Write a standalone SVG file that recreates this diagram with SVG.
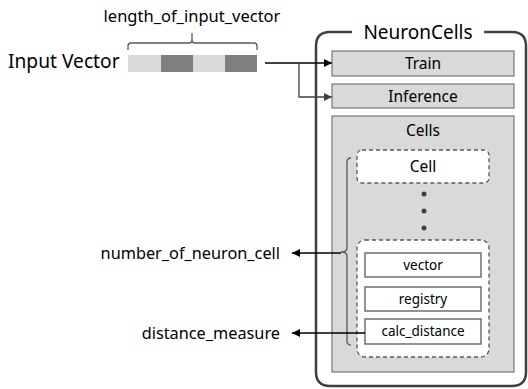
<svg xmlns="http://www.w3.org/2000/svg" width="528" height="389" viewBox="0 0 528 389">
<defs>
<style>
text{font-family:"Noto Sans","Open Sans",sans-serif;fill:#000;}
.gbox{fill:#d9d9d9;stroke:#7f7f7f;stroke-width:1.3;}
.wbox{fill:#fff;stroke:#595959;stroke-width:1.3;}
.dash{fill:#fff;stroke:#595959;stroke-width:1.3;stroke-dasharray:4 3;}
.lbl{font-size:15.5px;text-anchor:middle;}
.sm{font-size:13.5px;text-anchor:middle;}
.side{font-size:16.3px;text-anchor:end;}
.conn{fill:none;stroke:#000;stroke-width:1.3;}
.brace{fill:none;stroke:#595959;stroke-width:1.3;}
</style>
<marker id="ah" viewBox="0 0 10 10" refX="10" refY="5" markerWidth="8" markerHeight="8" markerUnits="userSpaceOnUse" orient="auto">
<path d="M0,0 L10,5 L0,10 z" fill="#000"/>
</marker>
<marker id="ahg" viewBox="0 0 10 10" refX="10" refY="5" markerWidth="8" markerHeight="8" markerUnits="userSpaceOnUse" orient="auto">
<path d="M0,0 L10,5 L0,10 z" fill="#404040"/>
</marker>
</defs>

<g id="input-vector">
<text x="8" y="68" style="font-size:19.2px">Input Vector</text>
<rect x="128" y="55" width="33" height="17" fill="#d9d9d9"/>
<rect x="161" y="55" width="32" height="17" fill="#7f7f7f"/>
<rect x="193" y="55" width="32" height="17" fill="#d9d9d9"/>
<rect x="225" y="55" width="32" height="17" fill="#7f7f7f"/>
<path class="brace" d="M128,50 L128,46 Q128,43 131,43 L189,43 Q192,43 192,40 L192,33 M192,40 Q192,43 195,43 L254,43 Q257,43 257,46 L257,50"/>
<text x="192" y="22" class="lbl" style="font-size:16.5px">length_of_input_vector</text>
</g>

<g id="neuron-cells">
<path d="M352,32 L330,32 Q316,32 316,46 L316,372 Q316,386 330,386 L512,386 Q526,386 526,372 L526,46 Q526,32 512,32 L484,32" fill="none" stroke="#404040" stroke-width="2.5"/>
<text x="418" y="39" style="font-size:19px;text-anchor:middle">NeuronCells</text>
</g>

<g id="train">
<rect class="gbox" x="332" y="51" width="182" height="25"/>
<text x="423" y="69" class="lbl">Train</text>
</g>

<g id="inference">
<rect class="gbox" x="332" y="84" width="182" height="24"/>
<text x="423" y="102" class="lbl">Inference</text>
</g>

<g id="cells">
<rect class="gbox" x="332" y="116" width="182" height="256"/>
<text x="423" y="136" class="lbl">Cells</text>
</g>

<g id="cell">
<rect class="dash" x="357" y="150" width="132" height="33" rx="5"/>
<text x="423" y="172" class="lbl">Cell</text>
</g>

<g id="dots">
<circle cx="424" cy="194" r="2.5" fill="#404040"/>
<circle cx="424" cy="211" r="2.5" fill="#404040"/>
<circle cx="424" cy="228" r="2.5" fill="#404040"/>
</g>

<g id="cell-detail">
<rect class="dash" x="357" y="240" width="132" height="117" rx="8"/>
</g>

<g id="vector">
<rect class="wbox" x="365" y="253" width="116" height="24"/>
<text x="423" y="270" class="sm">vector</text>
</g>

<g id="registry">
<rect class="wbox" x="365" y="287" width="116" height="24"/>
<text x="423" y="304" class="sm">registry</text>
</g>

<g id="calc-distance">
<rect class="wbox" x="365" y="319" width="116" height="25"/>
<text x="423" y="336" class="sm">calc_distance</text>
</g>

<g id="cells-brace">
<path class="brace" d="M351,158 Q347,158 347,162 L347,248 Q347,252 341,252 Q347,252 347,256 L347,341 Q347,345 351,345"/>
</g>

<g id="number-of-neuron-cell">
<text x="280" y="259" class="side">number_of_neuron_cell</text>
</g>

<g id="distance-measure">
<text x="280" y="339" class="side">distance_measure</text>
</g>

<g id="connectors">
<line class="conn" x1="265" y1="63" x2="332" y2="63" marker-end="url(#ah)"/>
<polyline class="conn" points="299,63 299,97 332,97" style="stroke:#404040" marker-end="url(#ahg)"/>
<line class="conn" x1="341" y1="253" x2="292" y2="253" marker-end="url(#ah)"/>
<line class="conn" x1="365" y1="333" x2="292" y2="333" marker-end="url(#ah)"/>
</g>
</svg>
